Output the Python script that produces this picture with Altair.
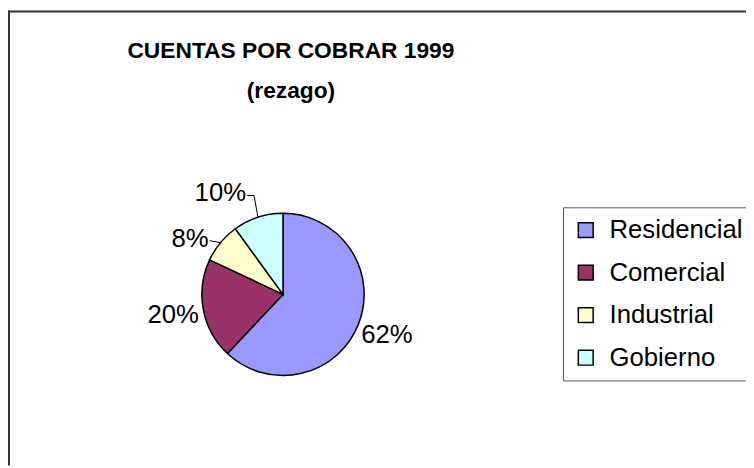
import altair as alt
import pandas as pd

# ---- data ----
CATEGORIES = ["Residencial", "Comercial", "Industrial", "Gobierno"]
VALUES = [62, 20, 8, 10]
LABELS = ["62%", "20%", "8%", "10%"]
COLORS = ["#9999FF", "#993366", "#FFFFCC", "#CCFFFF"]
TITLE_LINES = ["CUENTAS POR COBRAR 1999", "(rezago)"]

df = pd.DataFrame({"cat": CATEGORIES, "val": VALUES, "lab": LABELS,
                   "ord": list(range(len(CATEGORIES)))})

# ---- layout / style ----
FONT = "Liberation Sans"
W, H = 746, 460
CX, CY, R = 278, 287, 82          # pie centre and radius (px in plot area)
LR = 113                           # radius of plain labels
FS = 26
KNEE_DX = {"Industrial": -11, "Gobierno": -4}
KNEE_DY = {"Industrial": -2, "Gobierno": -22}
TAIL_DX = {"Industrial": 0, "Gobierno": -7}


def per_cat(d):
    expr = "0"
    for k, v in d.items():
        expr = f"(datum.cat == '{k}' ? {v} : {expr})"
    return expr


base = alt.Chart(df)

pie = base.mark_arc(outerRadius=R, stroke="black", strokeWidth=1.5).encode(
    theta=alt.Theta("val:Q", stack=True),
    color=alt.Color(
        "cat:N",
        scale=alt.Scale(domain=CATEGORIES, range=COLORS),
        legend=alt.Legend(
            title=None, orient="none", legendX=561, legendY=199,
            symbolType="square", symbolSize=225, symbolStrokeColor="black",
            symbolStrokeWidth=1.5, symbolOpacity=1,
            labelFont=FONT, labelFontSize=FS, labelColor="black",
            labelLimit=400, labelOffset=11,
            strokeColor="#555555", fillColor="white", padding=10,
            rowPadding=17,
        ),
    ),
    order=alt.Order("ord:Q"),
    x=alt.value(CX),
    y=alt.value(CY),
)

geo = (
    base.transform_window(cum="sum(val)", sort=[alt.SortField("ord")], frame=[None, 0])
    .transform_joinaggregate(tot="sum(val)")
    .transform_calculate(mid="2*PI*(datum.cum - datum.val/2)/datum.tot")
    .transform_calculate(
        ex=f"{CX} + {R}*sin(datum.mid)",
        ey=f"{CY} - {R}*cos(datum.mid)",
        px=f"{CX} + {LR}*sin(datum.mid)",
        py=f"{CY} - {LR}*cos(datum.mid)",
    )
    .transform_calculate(
        kx=f"datum.ex + {per_cat(KNEE_DX)}",
        ky=f"datum.ey + {per_cat(KNEE_DY)}",
    )
    .transform_calculate(tx=f"datum.kx + {per_cat(TAIL_DX)}")
)

small = geo.transform_filter("datum.val < 15")
large = geo.transform_filter("datum.val >= 15")

leader1 = small.mark_rule(color="black", strokeWidth=1).encode(
    x=alt.X("ex:Q", scale=None), y=alt.Y("ey:Q", scale=None),
    x2="kx:Q", y2="ky:Q")
leader2 = small.mark_rule(color="black", strokeWidth=1).encode(
    x=alt.X("kx:Q", scale=None), y=alt.Y("ky:Q", scale=None),
    x2="tx:Q", y2="ky:Q")

lab_large = large.mark_text(font=FONT, fontSize=FS, color="black",
                            align="center", baseline="middle").encode(
    x=alt.X("px:Q", scale=None), y=alt.Y("py:Q", scale=None), text="lab:N")
lab_small = small.mark_text(font=FONT, fontSize=FS, color="black",
                            align="right", baseline="middle", dx=-1, dy=-2).encode(
    x=alt.X("tx:Q", scale=None), y=alt.Y("ky:Q", scale=None), text="lab:N")

title = alt.Chart(pd.DataFrame({"k": [0]})).mark_text(
    text=TITLE_LINES, font=FONT, fontSize=23, fontWeight="bold",
    color="black", align="center", baseline="alphabetic", lineHeight=40,
).encode(x=alt.value(286), y=alt.value(48))

frame_top = alt.Chart(pd.DataFrame({"k": [0]})).mark_rule(
    color="#333333", strokeWidth=2).encode(x=alt.value(0), x2=alt.value(W), y=alt.value(1))
frame_left = alt.Chart(pd.DataFrame({"k": [0]})).mark_rule(
    color="#333333", strokeWidth=2).encode(x=alt.value(1), y=alt.value(0), y2=alt.value(H))

chart = (
    alt.layer(frame_top, frame_left, pie, leader1, leader2, lab_large, lab_small, title)
    .properties(width=W, height=H, padding=0,
                autosize=alt.AutoSizeParams(type="none"), background="white")
    .configure_view(stroke=None)
)

chart.save("out.html", embed_options={"renderer": "svg", "actions": False})
